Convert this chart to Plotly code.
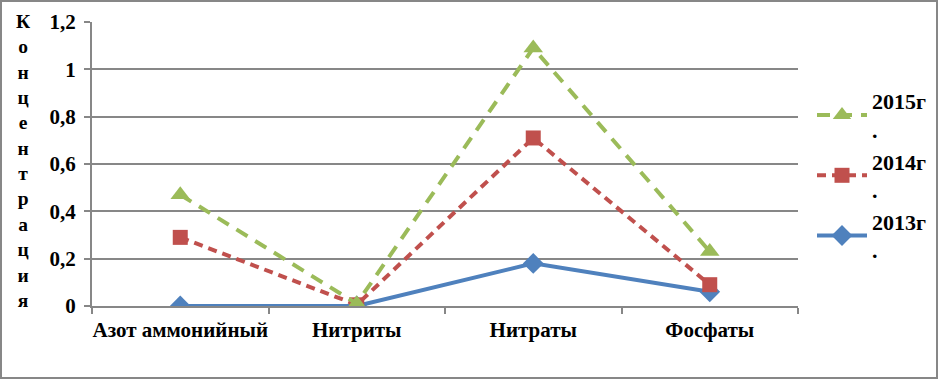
import plotly.graph_objects as go

categories = ["Азот аммонийный", "Нитриты", "Нитраты", "Фосфаты"]
y2013 = [0.0, 0.0, 0.18, 0.06]
y2014 = [0.29, 0.005, 0.71, 0.09]
y2015 = [0.47, 0.01, 1.09, 0.23]
series_names = ["2013г<br>.", "2014г<br>.", "2015г<br>."]
y_title = "Концентрация"

FONT = "'Liberation Serif', 'Times New Roman', serif"
GRAY = "#878787"

fig = go.Figure()
fig.add_trace(go.Scatter(
    x=categories, y=y2013, name=series_names[0], mode="lines+markers",
    line=dict(color="#4F81BD", width=4),
    marker=dict(symbol="diamond", size=16, color="#4F81BD"),
))
fig.add_trace(go.Scatter(
    x=categories, y=y2014, name=series_names[1], mode="lines+markers",
    line=dict(color="#C0504D", width=4, dash="9px,6px"),
    marker=dict(symbol="square", size=15, color="#C0504D"),
))
fig.add_trace(go.Scatter(
    x=categories, y=y2015, name=series_names[2], mode="lines+markers",
    line=dict(color="#9BBB59", width=4, dash="13px,9px"),
    marker=dict(symbol="triangle-up", size=17, color="#9BBB59"),
))

W, H = 938, 380
L, R, T, B = 92, 140, 22, 74
pw, ph = W - L - R, H - T - B

def px(xp):
    return (xp - L) / pw

def py(yp):
    return (H - B - yp) / ph

fig.update_layout(
    width=W, height=H, autosize=False,
    margin=dict(l=L, r=R, t=T, b=B, autoexpand=False),
    paper_bgcolor="white", plot_bgcolor="white",
    separators=", ",
    font=dict(family=FONT, size=19, color="black"),
    showlegend=True,
    legend=dict(
        traceorder="reversed", x=px(812), y=py(80), xanchor="left", yanchor="top",
        font=dict(family=FONT, size=22, color="black", weight="bold"),
        itemwidth=50, tracegroupgap=0, bgcolor="rgba(0,0,0,0)",
    ),
    xaxis=dict(
        type="category", range=[-0.5, 3.5], showgrid=False,
        showline=True, linecolor=GRAY, linewidth=2,
        ticks="outside", tickson="boundaries", ticklen=6, tickcolor=GRAY, tickwidth=2,
        tickangle=0, automargin=False, ticklabelstandoff=4,
        tickfont=dict(family=FONT, size=21, color="black", weight="bold"),
        fixedrange=True,
    ),
    yaxis=dict(
        range=[0, 1.2], dtick=0.2, tick0=0, automargin=False, ticklabelstandoff=4,
        showgrid=True, gridcolor=GRAY, gridwidth=2, zeroline=False,
        showline=True, linecolor=GRAY, linewidth=2,
        ticks="outside", ticklen=6, tickcolor=GRAY, tickwidth=2,
        tickfont=dict(family=FONT, size=21, color="black", weight="bold"),
        fixedrange=True,
    ),
    shapes=[dict(
        type="rect", xref="paper", yref="paper",
        x0=px(1), x1=px(937), y0=py(378), y1=py(1),
        line=dict(color=GRAY, width=2), fillcolor="rgba(0,0,0,0)", layer="below",
    )],
    annotations=[dict(
        text="<br>".join(list(y_title)), xref="paper", yref="paper",
        x=px(23), y=py(161), xanchor="center", yanchor="middle", showarrow=False,
        font=dict(family=FONT, size=19.5, color="black", weight="bold"),
        align="center",
    )],
)

fig.write_html("out.html", config={"displayModeBar": False, "responsive": False},
               post_script="document.body.style.margin='0';")
